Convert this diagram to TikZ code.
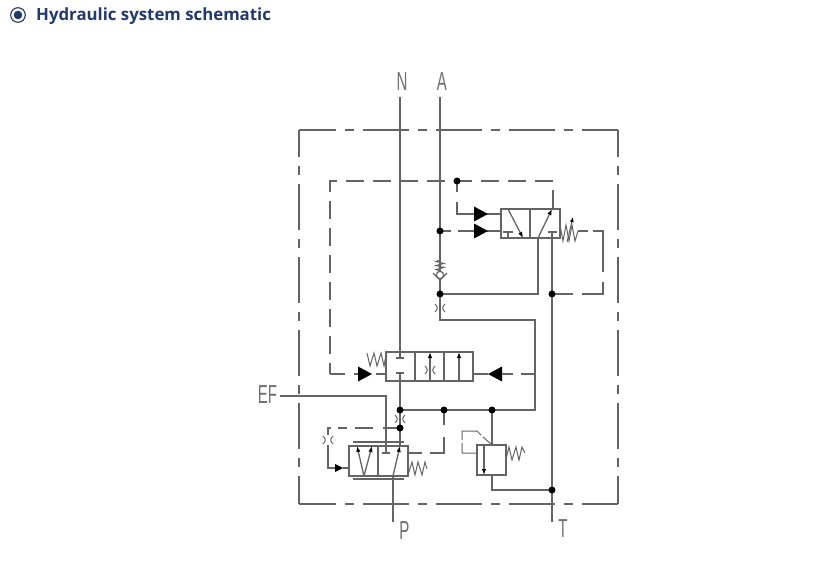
\documentclass[tikz,border=0pt]{standalone}
\usepackage{fontspec}
\setmainfont{Liberation Sans}
\newfontfamily\titlefont{Open Sans}
\usetikzlibrary{arrows.meta}
\definecolor{ink}{HTML}{646464}
\definecolor{lab}{HTML}{707070}
\definecolor{navy}{HTML}{22396B}
\tikzset{
  x=1pt,y=-1pt,
  every path/.style={line join=miter},
  ln/.style={draw=ink,line width=1.3pt},
  thin line/.style={draw=ink,line width=1pt},
  frame/.style={ln,dash pattern=on 46pt off 9pt on 9pt off 9pt},
  pilot/.style={ln,dash pattern=on 18pt off 9pt},
  valve/.style={draw=ink,line width=1.3pt,rectangle,inner sep=0pt,outer sep=0pt},
  tip/.style={ln,-{Latex[length=6pt,width=4.5pt,black]}},
  dot/.style={circle,fill=black,inner sep=0pt,minimum size=7pt},
  cad/.style={text=lab,inner sep=0pt,font=\fontsize{26}{26}\selectfont,xscale=.58},
  orifice/.pic={\draw[thin line] (-5,-4) .. controls (-2,-1) and (-2,1) .. (-5,4);
                \draw[thin line] (5,-4) .. controls (2,-1) and (2,1) .. (5,4);},
  head/.pic={\fill[black] (-7,-7.5) -- (7,0) -- (-7,7.5) -- cycle;},
}
\begin{document}
\begin{tikzpicture}
\useasboundingbox (0,0) rectangle (838,561);
% title
\draw[navy,line width=1.1pt] (18,15) circle (7.3);
\fill[navy] (18,15) circle (4.3);
\node[anchor=base west,inner sep=0pt,text=navy,font=\titlefont\bfseries\fontsize{16.8}{16.8}\selectfont] (title) at (36,21) {Hydraulic system schematic};
% junctions
\coordinate (jTop) at (457,181);
\coordinate (jA) at (440,231);
\coordinate (jB) at (440,294);
\coordinate (jR) at (552,294);
\coordinate (jC) at (400,410);
\coordinate (jD) at (444,410);
\coordinate (jE) at (492,410);
\coordinate (jF) at (400,428);
\coordinate (jT) at (552,490);
\coordinate (nN) at (400,97);
\coordinate (nA) at (440,97);
\coordinate (nEF) at (280,396);
\coordinate (nP) at (393,522);
\coordinate (nT) at (552,522);
% outer frame
\draw[frame,dash phase=9pt] (299,130) -- (618,130);
\draw[frame,dash phase=9pt] (299,504) -- (618,504);
\draw[frame,dash phase=19pt] (299,130) -- (299,504);
\draw[frame,dash phase=19pt] (618,130) -- (618,504);
% inner pilot frame
\draw[pilot,dash phase=7pt] (330,374) -- (330,181) -- (553,181) -- (553,209);
\draw[pilot,dash phase=3pt] (330,374) -- (358,374);
\draw[ln] (376,374) -- (386,374);
% upper valve
\node[valve,minimum width=59pt,minimum height=29pt] (v1) at (530.5,223.5) {};
\draw[ln] (530,209) -- (530,238);
\draw[tip] (508,209) -- (523,238);
\draw[ln] (508,238) -- (508,232) (503,232) -- (513,232);
\draw[tip] (538,238) -- (552,209);
\draw[ln] (548,232) -- (557,232);
\draw[ln] (538,238) |- (jB);
\draw[ln] (552,232) -- (nT);
\draw[ln] (nN) -- (400,358) (396,358) -- (404,358);
\draw[ln] (nA) -- (440,320) -- (535,320) -- (535,410) -- (jC);
% pilots into upper valve
\draw[ln] (jTop) -- (457,192) (457,202) -- (457,214) -- (474,214);
\draw[ln] (487,214) -- (501,214);
\draw[ln] (jA) -- (451,231) (458,231) -- (474,231);
\draw[ln] (487,231) -- (501,231);
\pic at (481,214) {head};
\pic at (481,231) {head};
% spring, upper valve
\draw[thin line] (560,225) -- (563,241) -- (566,225) -- (569,241) -- (572,225) -- (575,241) -- (578,231);
\draw[thin line,-{Latex[length=5pt,width=4pt,black]}] (567,242) -- (573,217);
\draw[ln] (578,231) -- (588,231) (593,231) -- (603,231) -- (603,272) (603,282) -- (603,294) -- (582,294) (573,294) -- (jR);
% check valve
\draw[thin line] (440,260) -- (436,261.5) -- (444,263.5) -- (436,265.5) -- (444,267.5) -- (436,269.5) -- (440,271);
\draw[draw=ink,line width=1.2pt,fill=white] (440,275) circle (3.7);
\draw[ln] (433,273) -- (440,280) -- (447,273);
\pic at (440,308) {orifice};
% main valve
\node[valve,minimum width=87pt,minimum height=29pt] (v2) at (429.5,366.5) {};
\draw[ln] (415,352) -- (415,381) (444,352) -- (444,381);
\draw[tip] (430,381) -- (430,352);
\pic at (430,370) {orifice};
\draw[tip] (459,381) -- (459,352);
\draw[ln] (396,373) -- (404,373) (400,373) -- (jC);
\draw[thin line] (367,353) -- (370,366) -- (374,353) -- (377,366) -- (381,353) -- (384,366) -- (386,355);
\pic at (365,374) {head};
\pic[rotate=180] at (495,374) {head};
\draw[ln] (473,374) -- (488,374);
\draw[ln] (502,374) -- (513,374) (521,374) -- (535,374);
\draw[ln] (jC) -- (jF);
\pic at (400,419) {orifice};
% EF
\draw[ln] (nEF) -| (386,453);
\draw[ln] (382,453) -- (390,453);
% lower valve
\node[valve,minimum width=59pt,minimum height=30pt] (v3) at (378.5,461) {};
\draw[ln] (378,446) -- (378,476);
\draw[ln] (353,442) -- (404,442) (353,479) -- (404,479);
\draw[tip] (364,476) -- (357,446);
\draw[tip] (364,476) -- (372,446);
\draw[tip] (393,476) -- (400,446);
\draw[ln] (393,476) -- (nP);
\draw[ln] (jF) -- (400,446);
\draw[thin line] (408,475) -- (412,462) -- (415,475) -- (418,462) -- (422,475) -- (425,462) -- (427,469);
\draw[ln] (408,453) -- (422,453) (430,453) -- (444,453) -- (444,437) (444,425) -- (jD);
% left pilot of lower valve
\draw[ln] (jF) -- (383,428) (373,428) -- (355,428) (347,428) -- (338,428) (331,428) -- (328,428) -- (328,435) (328,445) -- (328,468) -- (335,468);
\pic at (328,440) {orifice};
\fill[black] (335,464) -- (343,468) -- (335,472) -- cycle;
\draw[ln] (343,468) -- (349,468);
% relief valve
\node[valve,minimum width=29pt,minimum height=30pt] (v4) at (491.5,460) {};
\draw[tip] (484,445) -- (484,475);
\draw[ln] (jE) -- (492,445);
\draw[ln] (492,475) -- (492,490) -- (jT);
\draw[thin line] (506,459) -- (509,447) -- (512,460) -- (516,447) -- (519,460) -- (522,447) -- (525,453);
\draw[thin line] (477,453) -- (462,453) -- (462,443) (462,440) -- (462,431) -- (477,431) -- (481,435) (483,437) -- (491,444);
% dots
\foreach \c in {jTop,jA,jB,jR,jC,jD,jE,jF,jT} \node[dot] at (\c) {};
% labels
\node[cad] (lN) at (402,81.5) {N};
\node[cad] (lA) at (442,81.5) {A};
\node[cad] (lEF) at (267.5,394.5) {EF};
\node[cad] (lP) at (404.5,530.5) {P};
\node[cad] (lT) at (563,529) {T};
\end{tikzpicture}
\end{document}
